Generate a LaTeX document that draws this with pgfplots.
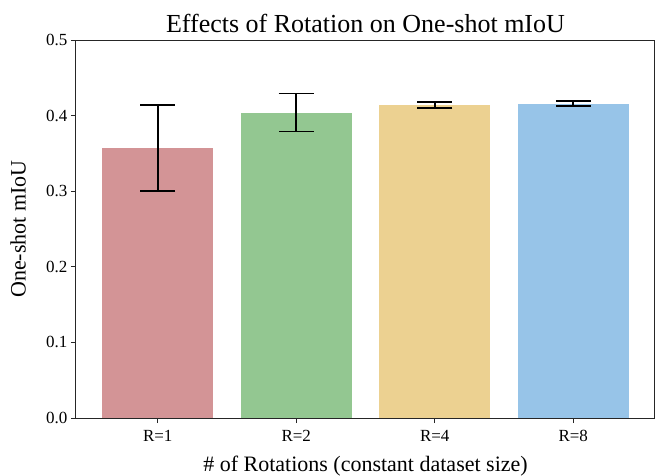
\documentclass[border=0pt]{standalone}
\usepackage{fontspec}
\setmainfont{Liberation Serif}
\usepackage{pgfplots}
\pgfplotsset{compat=1.18}
\definecolor{cR}{RGB}{211,148,150}
\definecolor{cG}{RGB}{147,199,145}
\definecolor{cY}{RGB}{236,209,145}
\definecolor{cB}{RGB}{151,196,232}
\begin{document}
\begin{tikzpicture}
\begin{axis}[
  at={(0,0)}, anchor=south west,
  scale only axis, width=579pt, height=378pt,
  ybar, bar width=0.8, bar shift=0pt,
  xmin=-0.59, xmax=3.59, ymin=0, ymax=0.5,
  xtick={0,1,2,3}, xticklabels={R=1,R=2,R=4,R=8},
  ytick={0,0.1,0.2,0.3,0.4,0.5},
  yticklabel style={/pgf/number format/.cd, fixed, fixed zerofill, precision=1},
  xticklabel style={yshift=-4pt},
  /pgf/number format/assume math mode=true,
  tick label style={font=\fontsize{17}{19}\selectfont},
  xtick pos=bottom, ytick pos=left,
  tick align=outside, major tick length=5pt,
  axis line style={black!85, line width=1pt},
  tick style={black!85, line width=1pt},
  title={Effects of Rotation on One-shot mIoU},
  title style={font=\fontsize{26}{28}\selectfont, yshift=-2pt},
  xlabel={\# of Rotations (constant dataset size)},
  ylabel={One-shot mIoU},
  xlabel style={at={(axis description cs:0.5,-0.127)}, anchor=center},
  ylabel style={at={(axis description cs:-0.1,0.5)}, anchor=center},
  label style={font=\fontsize{22}{24}\selectfont},
  error bars/y dir=both, error bars/y explicit,
  error bars/error mark=-,
  error bars/error mark options={rotate=90, black, mark size=17.5pt, line width=1.6pt},
  error bars/error bar style={black, line width=1.6pt},
]
\addplot[fill=cR, draw=none] coordinates {(0,0.357) +- (0,0.057)};
\addplot[fill=cG, draw=none] coordinates {(1,0.404) +- (0,0.025)};
\addplot[fill=cY, draw=none] coordinates {(2,0.414) +- (0,0.004)};
\addplot[fill=cB, draw=none] coordinates {(3,0.416) +- (0,0.0035)};
\end{axis}
\pgfresetboundingbox
\path[use as bounding box] (-76pt,-57pt) rectangle (581pt,418pt);
\end{tikzpicture}
\end{document}
